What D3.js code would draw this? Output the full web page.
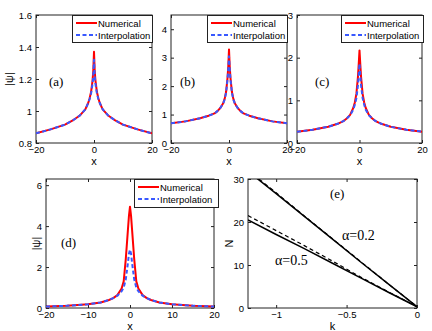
<!DOCTYPE html>
<html>
<head>
<meta charset="utf-8">
<script src="https://cdn.jsdelivr.net/npm/d3@7"></script>
<style>
  body { margin: 0; background: #fff; }
  svg { display: block; }
  .tick text { font-family: "Liberation Sans", Arial, sans-serif; font-size: 9.5px; fill: #000; }
  .tick line { stroke: #222; }
</style>
</head>
<body>
<div id="chart"></div>
<script>
// profile data, x grid shared by panels (a)-(d)
var xs = [-20, -15, -10, -7, -5, -4, -3, -2, -1.5, -1, -0.5, -0.25, 0, 0.25, 0.5, 1, 1.5, 2, 3, 4, 5, 7, 10, 15, 20];

var numA = [0.86, 0.885, 0.915, 0.945, 0.97, 0.99, 1.01, 1.05, 1.08, 1.12, 1.19, 1.25, 1.37, 1.25, 1.19, 1.12, 1.08, 1.05, 1.01, 0.99, 0.97, 0.945, 0.915, 0.885, 0.86];
var intA = [0.86, 0.885, 0.915, 0.945, 0.97, 0.99, 1.01, 1.05, 1.075, 1.11, 1.17, 1.22, 1.32, 1.22, 1.17, 1.11, 1.075, 1.05, 1.01, 0.99, 0.97, 0.945, 0.915, 0.885, 0.86];

var numB = [0.69, 0.76, 0.87, 0.96, 1.04, 1.12, 1.23, 1.4, 1.55, 1.8, 2.3, 2.7, 3.29, 2.7, 2.3, 1.8, 1.55, 1.4, 1.23, 1.12, 1.04, 0.96, 0.87, 0.76, 0.69];
var intB = [0.69, 0.76, 0.87, 0.96, 1.04, 1.12, 1.23, 1.39, 1.53, 1.77, 2.25, 2.6, 3.05, 2.6, 2.25, 1.77, 1.53, 1.39, 1.23, 1.12, 1.04, 0.96, 0.87, 0.76, 0.69];

var numC = [0.265, 0.31, 0.38, 0.45, 0.52, 0.58, 0.66, 0.82, 0.95, 1.15, 1.55, 1.85, 2.17, 1.85, 1.55, 1.15, 0.95, 0.82, 0.66, 0.58, 0.52, 0.45, 0.38, 0.31, 0.265];
var intC = [0.265, 0.31, 0.38, 0.45, 0.52, 0.58, 0.65, 0.78, 0.9, 1.05, 1.35, 1.6, 1.86, 1.6, 1.35, 1.05, 0.9, 0.78, 0.65, 0.58, 0.52, 0.45, 0.38, 0.31, 0.265];

var numD = [0.07, 0.11, 0.18, 0.27, 0.39, 0.48, 0.63, 0.95, 1.3, 2.4, 3.8, 4.5, 4.95, 4.5, 3.8, 2.4, 1.3, 0.95, 0.63, 0.48, 0.39, 0.27, 0.18, 0.11, 0.07];
var intD = [0.07, 0.11, 0.18, 0.27, 0.39, 0.48, 0.6, 0.82, 1.0, 1.4, 2.2, 2.65, 2.85, 2.65, 2.2, 1.4, 1.0, 0.82, 0.6, 0.48, 0.39, 0.27, 0.18, 0.11, 0.07];

// panel (e): N versus k
var kVals = [-1.2, -1.0, -0.8, -0.6, -0.4, -0.2, 0];
var n02Num = [31.8, 26.6, 21.3, 16.0, 10.7, 5.5, 0.3];
var n02Int = [32.0, 26.8, 21.4, 16.1, 10.8, 5.5, 0.3];
var n05Num = [20.5, 17.1, 13.8, 10.4, 7.0, 3.6, 0.3];
var n05Int = [21.5, 18.0, 14.5, 10.9, 7.2, 3.7, 0.3];

var legendNames = ["Numerical", "Interpolation"];

var W = 432, H = 331;
var svg = d3.select("#chart").append("svg").attr("width", W).attr("height", H);
svg.append("rect").attr("width", W).attr("height", H).attr("fill", "#fff");

var RED = "#ff0000", BLUE = "#3858ff";

function panel(o) {
    var x = d3.scaleLinear().domain(o.xd).range([o.l, o.r]),
        y = d3.scaleLinear().domain(o.yd).range([o.b, o.t]),
        g = svg.append("g");

    var clipId = "clip" + o.tag;
    svg.append("clipPath").attr("id", clipId).append("rect")
        .attr("x", o.l).attr("y", o.t).attr("width", o.r - o.l).attr("height", o.b - o.t);

    g.append("g").attr("transform", "translate(0," + o.b + ")")
        .call(d3.axisBottom(x).tickValues(o.xt).tickSize(-3).tickPadding(3).tickFormat(d3.format("")))
        .select(".domain").remove();
    g.append("g").attr("transform", "translate(0," + o.t + ")")
        .call(d3.axisTop(x).tickValues(o.xt).tickSize(-3).tickFormat(""))
        .select(".domain").remove();
    g.append("g").attr("transform", "translate(" + o.l + ",0)")
        .call(d3.axisLeft(y).tickValues(o.yt).tickSize(-3).tickPadding(4).tickFormat(d3.format("")))
        .select(".domain").remove();
    g.append("g").attr("transform", "translate(" + o.r + ",0)")
        .call(d3.axisRight(y).tickValues(o.yt).tickSize(-3).tickFormat(""))
        .select(".domain").remove();

    g.append("rect").attr("x", o.l).attr("y", o.t).attr("width", o.r - o.l).attr("height", o.b - o.t)
        .attr("fill", "none").attr("stroke", "#222").attr("stroke-width", 1);

    var line = d3.line().x(function (d) { return x(d[0]); }).y(function (d) { return y(d[1]); });
    var plot = g.append("g").attr("clip-path", "url(#" + clipId + ")");
    o.series.forEach(function (s) {
        plot.append("path")
            .attr("d", line(d3.zip(s.xv, s.yv)))
            .attr("fill", "none")
            .attr("stroke", s.color)
            .attr("stroke-width", s.w)
            .attr("stroke-dasharray", s.dash || null)
            .attr("stroke-linejoin", "round");
    });

    // axis titles
    g.append("text").attr("x", (o.l + o.r) / 2).attr("y", o.b + 22)
        .attr("text-anchor", "middle")
        .style("font-family", "Liberation Sans, Arial, sans-serif").style("font-size", "11px")
        .text(o.xlab);
    if (o.ylab) {
        g.append("text")
            .attr("transform", "translate(" + o.ylx + "," + ((o.t + o.b) / 2) + ") rotate(-90)")
            .attr("text-anchor", "middle")
            .style("font-family", "Liberation Sans, Arial, sans-serif").style("font-size", "11px")
            .text(o.ylab);
    }
    return { x: x, y: y, g: g };
}

function legend(g, box) {
    g.append("rect").attr("x", box[0] + 0.5).attr("y", box[1] + 0.5)
        .attr("width", box[2] - box[0]).attr("height", box[3] - box[1])
        .attr("fill", "#fff").attr("stroke", "#222");
    var rows = [box[1] + 8, box[1] + 20];
    legendNames.forEach(function (name, i) {
        g.append("line").attr("x1", box[0] + 4).attr("x2", box[0] + 25)
            .attr("y1", rows[i]).attr("y2", rows[i])
            .attr("stroke", i ? BLUE : RED).attr("stroke-width", 2)
            .attr("stroke-dasharray", i ? "4,2.5" : null);
        g.append("text").attr("x", box[0] + 26).attr("y", rows[i] + 3.5)
            .style("font-family", "Liberation Sans, Arial, sans-serif").style("font-size", "9.5px")
            .text(name);
    });
}

function tag(g, x, y, txt, size) {
    g.append("text").attr("x", x).attr("y", y)
        .style("font-family", "Liberation Serif, Times New Roman, serif").style("font-size", size + "px")
        .text(txt);
}

var profiles = [
    { tag: "a", l: 36, r: 152, t: 15, b: 143, yd: [0.8, 1.6], yt: [0.8, 1, 1.2, 1.4, 1.6], num: numA, itp: intA, ylab: "|ψ|", ylx: 13, lg: [72, 15, 152, 42], lab: "(a)", lx: 49, ly: 86 },
    { tag: "b", l: 171, r: 287, t: 15, b: 143, yd: [0, 4.5], yt: [0, 1, 2, 3, 4], num: numB, itp: intB, lg: [207, 15, 287, 42], lab: "(b)", lx: 180, ly: 86 },
    { tag: "c", l: 297, r: 422, t: 15, b: 143, yd: [0, 3], yt: [0, 1, 2, 3], num: numC, itp: intC, lg: [341, 15, 423, 42], lab: "(c)", lx: 315, ly: 86 },
    { tag: "d", l: 46, r: 214, t: 179, b: 308, yd: [0, 6.3], yt: [0, 2, 4, 6], xt: [-20, -10, 0, 10, 20], num: numD, itp: intD, ylab: "|ψ|", ylx: 40, lg: [134, 179, 218, 207], lab: "(d)", lx: 61, ly: 247 }
];

profiles.forEach(function (p) {
    var res = panel({
        tag: p.tag, l: p.l, r: p.r, t: p.t, b: p.b,
        xd: [-20, 20], yd: p.yd, xt: p.xt || [-20, 0, 20], yt: p.yt,
        xlab: "x", ylab: p.ylab, ylx: p.ylx,
        series: [
            { xv: xs, yv: p.num, color: RED, w: 2 },
            { xv: xs, yv: p.itp, color: BLUE, w: 2, dash: "4,2.5" }
        ]
    });
    tag(res.g, p.lx, p.ly, p.lab, 13);
    legend(res.g, p.lg);
});

var pe = panel({
    tag: "e", l: 248, r: 417, t: 179, b: 308,
    xd: [-1.2, 0], yd: [0, 30], xt: [-1, -0.5, 0], yt: [0, 10, 20, 30],
    xlab: "k", ylab: "N", ylx: 233,
    series: [
        { xv: kVals, yv: n02Num, color: "#000", w: 1.5 },
        { xv: kVals, yv: n02Int, color: "#000", w: 1.2, dash: "4,3" },
        { xv: kVals, yv: n05Num, color: "#000", w: 1.5 },
        { xv: kVals, yv: n05Int, color: "#000", w: 1.2, dash: "4,3" }
    ]
});
tag(pe.g, 330, 198, "(e)", 13);
tag(pe.g, 342, 240, "α=0.2", 14);
tag(pe.g, 275, 265, "α=0.5", 14);
</script>
</body>
</html>
